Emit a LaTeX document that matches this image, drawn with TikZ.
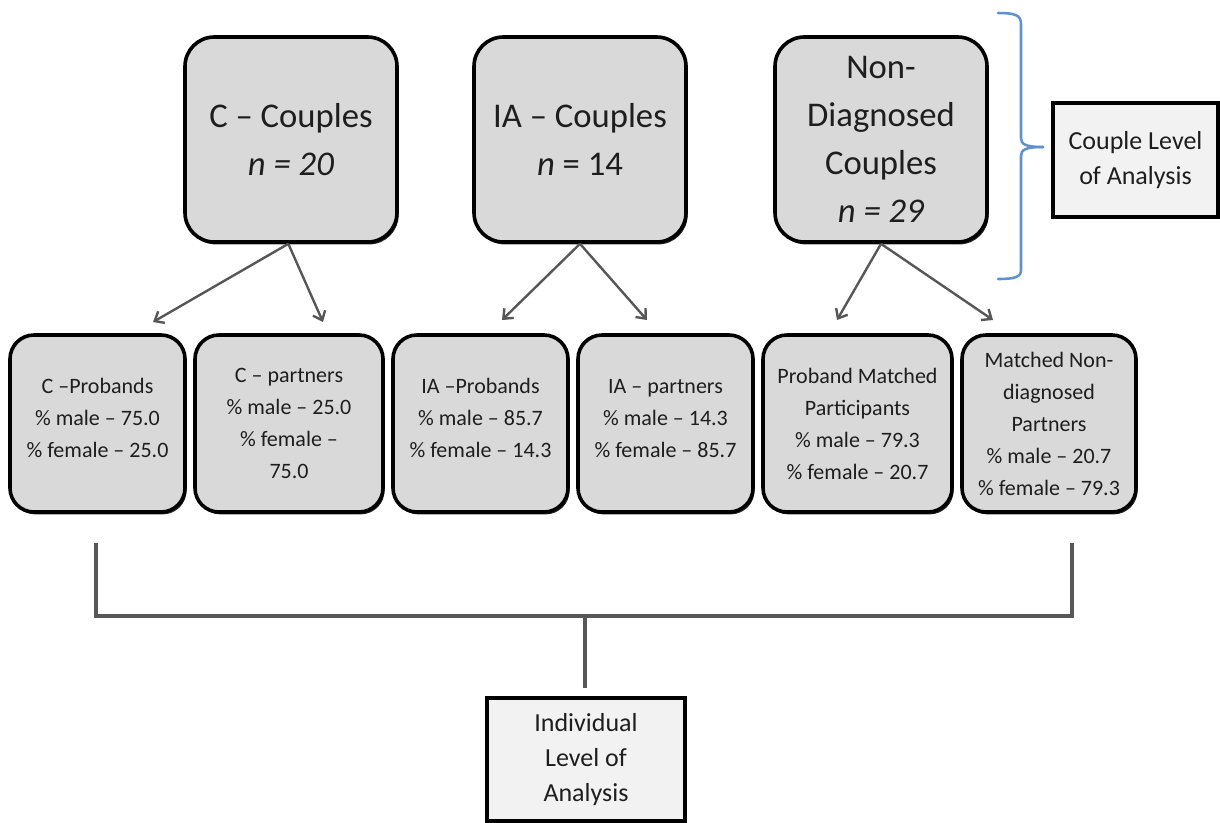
\documentclass[tikz,border=0pt]{standalone}
\usepackage{fontspec}
\setmainfont{Carlito}
\usetikzlibrary{arrows.meta,shadows}
\definecolor{boxgray}{HTML}{D9D9D9}
\definecolor{labelgray}{HTML}{F2F2F2}
\definecolor{linegray}{HTML}{575757}
\definecolor{braceblue}{RGB}{95,145,205}
\definecolor{txt}{HTML}{1E1E1E}
\begin{document}
\begin{tikzpicture}[x=0.75pt,y=-0.75pt,
  shadowed/.style={drop shadow={shadow xshift=1.2pt, shadow yshift=-1.8pt, fill=black, opacity=0.85}},
  topbox/.style={shadowed, draw=black, line width=2.7pt, fill=boxgray, rounded corners=22pt,
    minimum width=159pt, minimum height=153.75pt, align=center, text=txt,
    font=\fontsize{26}{36}\selectfont, inner sep=0pt},
  subbox/.style={shadowed, draw=black, line width=2.7pt, fill=boxgray, rounded corners=18pt,
    minimum height=132.75pt, inner sep=0pt},
  subtext/.style={align=center, text=txt, font=\fontsize{16.5}{24}\selectfont, inner sep=0pt},
  levelbox/.style={shadowed, draw=black, line width=2.5pt, fill=labelgray,
    align=center, text=txt, font=\fontsize{19.5}{26.5}\selectfont, inner sep=0pt},
  arr/.style={draw=linegray, line width=1.8pt, -{Straight Barb[length=6pt,width=10pt]}},
  bracketline/.style={draw=linegray, line width=2.3pt},
  bracestyle/.style={draw=braceblue, line width=1.9pt, line cap=round}
]
\useasboundingbox (0,0) rectangle (1220,822);

% top boxes
\node[topbox] (C) at (291,139.5) {C – Couples\\ \textit{n = 20}};
\node[topbox] (IA) at (580,139.5) {IA – Couples\\ \textit{n} = 14};
\node[topbox] (ND) at (881,139.5) {Non-\\Diagnosed\\Couples\\ \textit{n = 29}};

% bottom boxes
\node[subbox, minimum width=131.25pt] (CP) at (97.5,423.5) {};
\node[subbox, minimum width=141pt] (CPa) at (289,423.5) {};
\node[subbox, minimum width=131.25pt] (IP) at (480.5,423.5) {};
\node[subbox, minimum width=131.25pt] (IPa) at (665.5,423.5) {};
\node[subbox, minimum width=141.75pt] (PM) at (857.5,423.5) {};
\node[subbox, minimum width=130.5pt] (MN) at (1049,423.5) {};
\node[subtext] (CPt) at ([yshift=4pt]CP.center) {C –Probands\\\% male – 75.0\\\% female – 25.0};
\node[subtext] (CPat) at (CPa.center) {C – partners\\\% male – 25.0\\\% female –\\75.0};
\node[subtext] (IPt) at ([yshift=4pt]IP.center) {IA –Probands\\\% male – 85.7\\\% female – 14.3};
\node[subtext] (IPat) at ([yshift=4pt]IPa.center) {IA – partners\\\% male – 14.3\\\% female – 85.7};
\node[subtext] (PMt) at (PM.center) {Proband Matched\\Participants\\\% male – 79.3\\\% female – 20.7};
\node[subtext] (MNt) at (MN.center) {Matched Non-\\diagnosed\\Partners\\\% male – 20.7\\\% female – 79.3};

% level boxes
\node[levelbox, minimum width=123.75pt, minimum height=85.5pt] (CL) at (1135.5,160) {Couple Level\\of Analysis};
\node[levelbox, minimum width=148.5pt, minimum height=92.25pt] (IL) at (586,759.5) {Individual\\Level of\\Analysis};

% arrow end points
\coordinate (c1) at (153,322);
\coordinate (c2) at (323,322);
\coordinate (i1) at (502,320);
\coordinate (i2) at (647,320);
\coordinate (n1) at (837,320);
\coordinate (n2) at (993,320);

\draw[arr] ([xshift=-2pt]C.south) -- (c1);
\draw[arr] ([xshift=-2pt]C.south) -- (c2);
\draw[arr] (IA.south) -- (i1);
\draw[arr] (IA.south) -- (i2);
\draw[arr] (ND.south) -- (n1);
\draw[arr] (ND.south) -- (n2);

% individual-level bracket
\coordinate (bl) at (96,543);
\coordinate (br) at (1072,543);
\coordinate (bm) at (585,616);
\draw[bracketline] (bl) -- (bl |- bm) -- (br |- bm) -- (br);
\draw[bracketline] (bm) -- ([yshift=6pt]IL.north -| bm);

% couple-level brace
\coordinate (tip) at (1043,147);
\draw[bracestyle] (998,13) .. controls (1015,13) and (1021,15) .. (1021,24)
  -- (1021,138) .. controls (1021,144) and (1025,147) .. (tip);
\draw[bracestyle] (tip) .. controls (1025,147) and (1021,150) .. (1021,156)
  -- (1021,270) .. controls (1021,277) and (1015,279) .. (998,279);
\end{tikzpicture}
\end{document}
